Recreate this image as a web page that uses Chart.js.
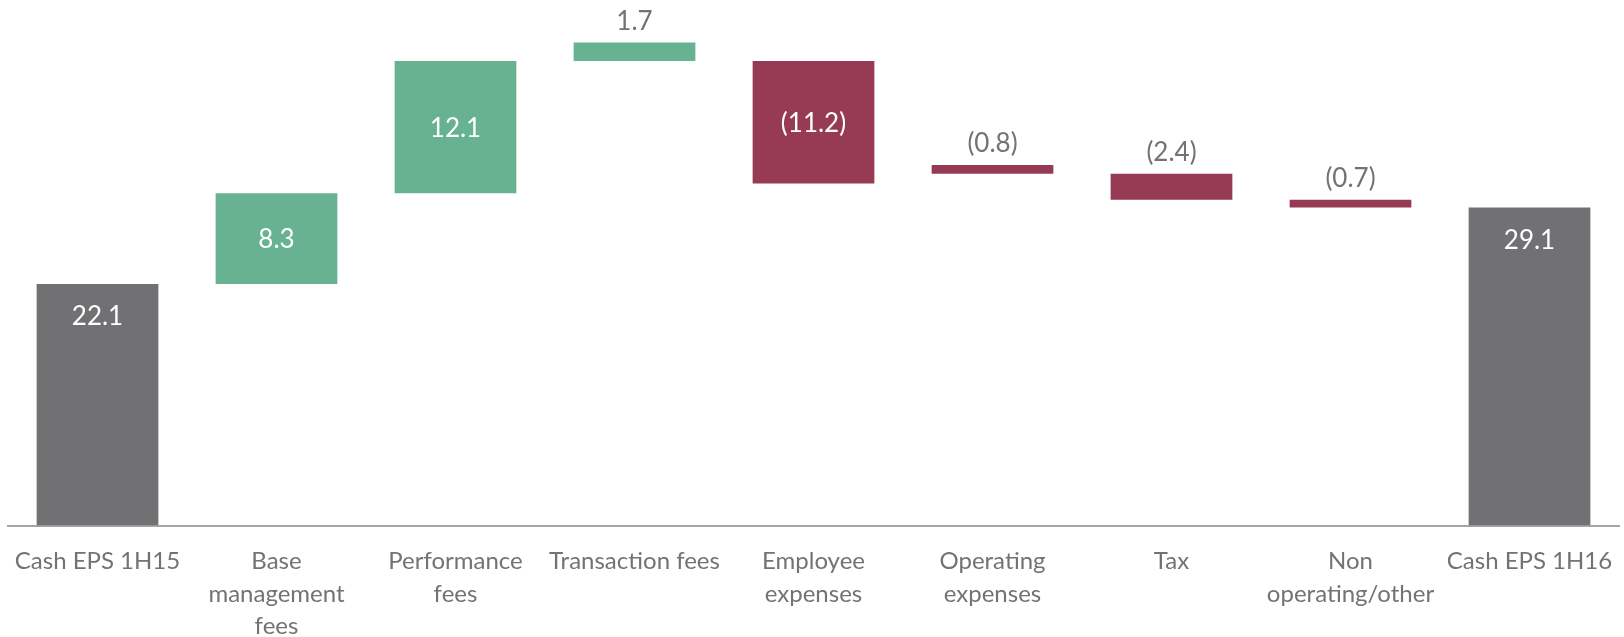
<!DOCTYPE html>
<html>
<head>
<meta charset="utf-8">
<script src="https://cdn.jsdelivr.net/npm/chart.js@4/dist/chart.umd.min.js"></script>
<style>
  html, body { margin: 0; padding: 0; background: #fff; }
  #wrap { width: 1624px; height: 637px; position: relative; }
</style>
</head>
<body>
<div id="wrap"><canvas id="waterfall"></canvas></div>
<script>
// waterfall data (bar starts)
const categories = [
  "Cash EPS 1H15",
  ["Base", "management", "fees"],
  ["Performance", "fees"],
  "Transaction fees",
  ["Employee", "expenses"],
  ["Operating", "expenses"],
  "Tax",
  ["Non", "operating/other"],
  "Cash EPS 1H16"
];
const values = [22.1, 8.3, 12.1, 1.7, -11.2, -0.8, -2.4, -0.7, 29.1];
const starts = [0, 22.1, 30.4, 42.5, 42.5, 33.0, 32.2, 29.8, 0];
const kinds = ["total", "step", "step", "step", "step", "step", "step", "step", "total"];

const GREY = "#717073";
const GREEN = "#67b391";
const MAROON = "#963b53";
const TEXT = "#737373";

const ranges = values.map((v, i) => [starts[i], +(starts[i] + v).toFixed(1)]);
const colors = values.map((v, i) =>
  kinds[i] === "total" ? GREY : (v >= 0 ? GREEN : MAROON)
);

function fmt(v) {
  return v < 0 ? "(" + Math.abs(v).toFixed(1) + ")" : v.toFixed(1);
}

/* =========================
   VALUE LABELS
========================= */
const valueLabels = {
  id: "valueLabels",
  afterDatasetsDraw(chart) {
    const ctx = chart.ctx;
    const meta = chart.getDatasetMeta(0);
    ctx.save();
    ctx.font = "26px Lato";
    ctx.textAlign = "center";
    ctx.textBaseline = "middle";
    meta.data.forEach((bar, i) => {
      const top = Math.min(bar.y, bar.base);
      const h = Math.abs(bar.base - bar.y);
      const txt = fmt(values[i]);
      if (h > 40) {
        ctx.fillStyle = "#ffffff";
        const y = kinds[i] === "total" ? top + 33 : top + h / 2 + 1;
        ctx.fillText(txt, bar.x, y);
      } else {
        ctx.fillStyle = TEXT;
        ctx.fillText(txt, bar.x, top - 21);
      }
    });
    ctx.restore();
  }
};

new Chart(document.getElementById("waterfall"), {
  type: "bar",
  data: {
    labels: categories,
    datasets: [{
      data: ranges,
      backgroundColor: colors,
      borderWidth: 0,
      categoryPercentage: 1,
      barPercentage: 0.68
    }]
  },
  options: {
    responsive: true,
    maintainAspectRatio: false,
    animation: false,
    layout: { padding: { left: 8, right: 5, top: 1, bottom: 0 } },
    plugins: {
      legend: { display: false },
      tooltip: { enabled: false }
    },
    scales: {
      x: {
        grid: {
          display: true,
          drawOnChartArea: false,
          drawTicks: true,
          tickLength: 14,
          color: "rgba(0,0,0,0)"
        },
        border: { display: true, color: "#a6a6a6", width: 2 },
        ticks: {
          color: TEXT,
          font: { family: "Lato", size: 24, lineHeight: 1.37 },
          padding: 5,
          maxRotation: 0,
          autoSkip: false
        },
        afterFit(scale) { scale.height = 111.5; }
      },
      y: {
        display: false,
        min: 0,
        max: 48
      }
    }
  },
  plugins: [valueLabels]
});
</script>
</body>
</html>
